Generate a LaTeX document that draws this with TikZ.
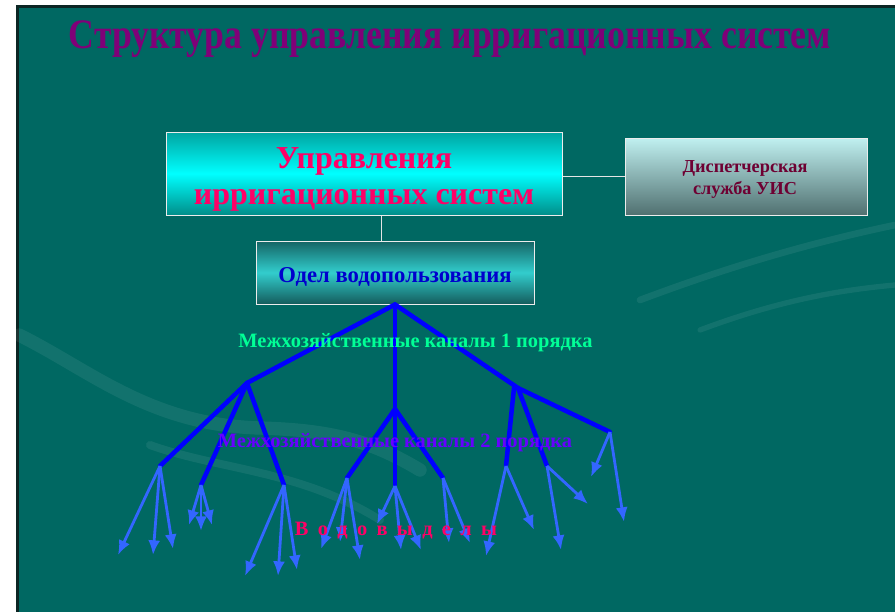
\documentclass[tikz,border=0pt]{standalone}
\usepackage{fontspec}
\setmainfont{Liberation Serif}
\newfontfamily\titelfont[FakeStretch=0.85]{Liberation Serif}
\usetikzlibrary{arrows.meta}

\definecolor{fon}{RGB}{0,104,98}
\definecolor{rand}{RGB}{12,38,36}
\definecolor{titel}{RGB}{128,0,120}
\definecolor{rosa}{RGB}{255,0,102}
\definecolor{kanalblau}{RGB}{0,0,255}
\definecolor{auslblau}{RGB}{51,102,255}
\definecolor{gruen}{RGB}{0,255,150}
\definecolor{violett}{RGB}{102,0,255}
\definecolor{dunkelrot}{RGB}{110,0,50}
\definecolor{odelblau}{RGB}{0,0,205}

\tikzset{
  kasten/.style={draw=white!85!gray, line width=0.75pt, align=center, font=\bfseries, inner sep=0pt},
  kanal/.style={kanalblau, line width=3.4pt, line cap=round},
  auslass/.style={auslblau, line width=2.1pt, -{Latex[length=11pt,width=9pt]}},
  verbinder/.style={white!80!gray, line width=0.75pt},
  welle/.style={white, opacity=0.07, line cap=round},
}

\begin{document}
\begin{tikzpicture}[x=0.75pt,y=-0.75pt]
  % Hintergrund
  \useasboundingbox (0,0) rectangle (895,612);
  \fill[white] (0,0) rectangle (895,612);
  \fill[rand] (16,5) rectangle (895,612);
  \fill[fon] (19,8) rectangle (895,612);
  \draw[welle, line width=10pt] (19,335) .. controls (90,370) and (150,425) .. (260,428) .. controls (330,430) and (370,440) .. (420,470);
  \draw[welle, line width=6pt] (150,445) .. controls (220,470) and (300,470) .. (380,520);
  \draw[welle, line width=5pt] (640,300) .. controls (720,270) and (800,245) .. (895,225);
  \draw[welle, line width=4pt] (700,330) .. controls (780,300) and (840,290) .. (895,285);

  % Titel
  \node[titel, font=\titelfont\bfseries\fontsize{31.5}{34}\selectfont, anchor=base] (titel) at (450,48) {Структура управления ирригационных систем};

  % Kästen
  \node[kasten, minimum width=297pt, minimum height=62.25pt, top color=fon!60!cyan, bottom color=fon!75!cyan, middle color=cyan] (upr) at (364,173.5) {};
  \node[rosa, font=\bfseries\fontsize{24}{27}\selectfont, align=center, anchor=base] (uprtext) at (364,204) {Управления\\ирригационных систем};
  \node[kasten, minimum width=181.5pt, minimum height=57.75pt, top color={rgb,255:red,192;green,240;blue,240}, bottom color={rgb,255:red,80;green,112;blue,112}] (disp) at (746,176.5) {};
  \node[dunkelrot, font=\bfseries\fontsize{13.7}{16}\selectfont, align=center, anchor=base] (disptext) at (745,194) {Диспетчерская\\служба УИС};
  \node[kasten, minimum width=208.5pt, minimum height=47.25pt, top color={rgb,255:red,20;green,100;blue,100}, bottom color={rgb,255:red,20;green,92;blue,92}, middle color={rgb,255:red,50;green,205;blue,205}] (odel) at (395,272.5) {};
  \node[odelblau, font=\bfseries\fontsize{17}{20}\selectfont, anchor=base] (odeltext) at (395,282) {Одел водопользования};

  \draw[verbinder] (disp.west -| upr.east) -- (disp.west);
  \draw[verbinder] ([xshift=-10.5pt]odel.north) -- ([xshift=-10.5pt]odel.north |- upr.south);

  % Kanäle 1. und 2. Ordnung
  \coordinate (k1l) at (247,383);
  \coordinate (k1m) at (395,409);
  \coordinate (k1r) at (518,388);
  \coordinate (k2a) at (160,466);
  \coordinate (k2b) at (201,485);
  \coordinate (k2c) at (284,485);
  \coordinate (k2d) at (347,478);
  \coordinate (k2e) at (395,486);
  \coordinate (k2f) at (443,478);
  \coordinate (k2g) at (506,466);
  \coordinate (k2h) at (547,466);
  \coordinate (k2i) at (610,432);

  \draw[kanal] (odel.south) -- (k1l);
  \draw[kanal] (odel.south) -- (k1m);
  \draw[kanal] (odel.south) -- (k1r);
  \draw[kanal] (k1l) -- (k2a);
  \draw[kanal] (k1l) -- (k2b);
  \draw[kanal] (k1l) -- (k2c);
  \draw[kanal] (k1m) -- (k2d);
  \draw[kanal] (k1m) -- (k2e);
  \draw[kanal] (k1m) -- (k2f);
  \draw[kanal] ([xshift=-3pt]k1r) -- (k2g);
  \draw[kanal] (k1r) -- (k2h);
  \draw[kanal] (k1r) -- (k2i);

  % Wasserauslässe
  \coordinate (va1) at (118,555);
  \coordinate (va2) at (153,555);
  \coordinate (va3) at (173,549);
  \coordinate (vb1) at (189,525);
  \coordinate (vb2) at (201,531);
  \coordinate (vb3) at (212,525);
  \coordinate (vc1) at (245,576);
  \coordinate (vc2) at (278,576);
  \coordinate (vc3) at (297,570);
  \coordinate (vd1) at (321,549);
  \coordinate (vd2) at (340,542);
  \coordinate (vd3) at (360,560);
  \coordinate (ve1) at (377,524);
  \coordinate (ve2) at (401,550);
  \coordinate (ve3) at (421,550);
  \coordinate (vf1) at (449,543);
  \coordinate (vf2) at (470,543);
  \coordinate (vg1) at (486,556);
  \coordinate (vg2) at (534,530);
  \coordinate (vh1) at (561,550);
  \coordinate (vh2) at (588,504);
  \coordinate (vi1) at (591,477);
  \coordinate (vi2) at (624,522);

  \draw[auslass] (k2a) -- (va1);
  \draw[auslass] (k2a) -- (va2);
  \draw[auslass] (k2a) -- (va3);
  \draw[auslass] (k2b) -- (vb1);
  \draw[auslass] (k2b) -- (vb2);
  \draw[auslass] (k2b) -- (vb3);
  \draw[auslass] (k2c) -- (vc1);
  \draw[auslass] (k2c) -- (vc2);
  \draw[auslass] (k2c) -- (vc3);
  \draw[auslass] (k2d) -- (vd1);
  \draw[auslass] (k2d) -- (vd2);
  \draw[auslass] (k2d) -- (vd3);
  \draw[auslass] (k2e) -- (ve1);
  \draw[auslass] (k2e) -- (ve2);
  \draw[auslass] (k2e) -- (ve3);
  \draw[auslass] (k2f) -- (vf1);
  \draw[auslass] (k2f) -- (vf2);
  \draw[auslass] (k2g) -- (vg1);
  \draw[auslass] (k2g) -- (vg2);
  \draw[auslass] (k2h) -- (vh1);
  \draw[auslass] (k2h) -- (vh2);
  \draw[auslass] (k2i) -- (vi1);
  \draw[auslass] (k2i) -- (vi2);

  % Beschriftungen
  \node[gruen, font=\bfseries\fontsize{15.3}{18}\selectfont, anchor=base] (ord1) at (415.5,347) {Межхозяйственные каналы 1 порядка};
  \node[violett, font=\bfseries\fontsize{15.3}{18}\selectfont, anchor=base] (ord2) at (395,447) {Межхозяйственные каналы 2 порядка};
  \node[rosa, font=\bfseries\fontsize{15.3}{18}\selectfont, anchor=base] (vodov) at (396,535) {\spaceskip=7pt В о д о в ы д е л ы};

\end{tikzpicture}
\end{document}
